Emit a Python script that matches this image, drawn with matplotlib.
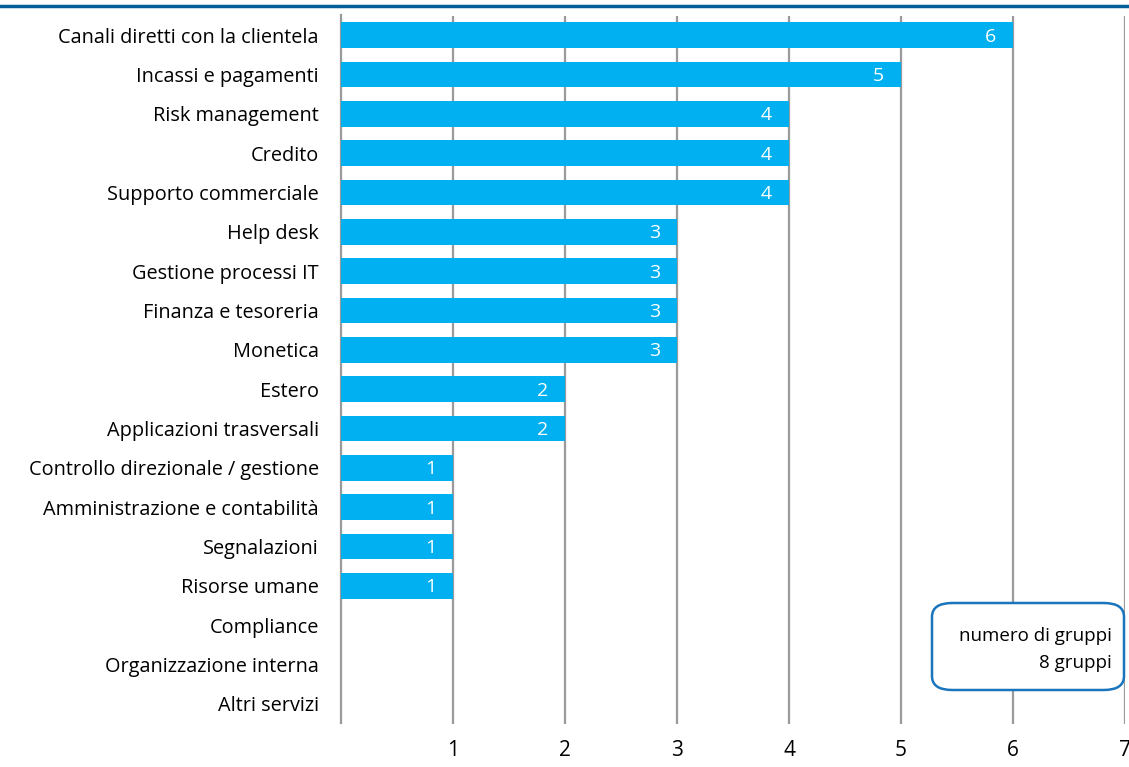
import matplotlib.pyplot as plt
from matplotlib.patches import FancyBboxPatch
import numpy as np

plt.rcParams['font.family'] = ['Open Sans', 'DejaVu Sans']

categorie = ["Canali diretti con la clientela", "Incassi e pagamenti", "Risk management",
             "Credito", "Supporto commerciale", "Help desk", "Gestione processi IT",
             "Finanza e tesoreria", "Monetica", "Estero", "Applicazioni trasversali",
             "Controllo direzionale / gestione", "Amministrazione e contabilità",
             "Segnalazioni", "Risorse umane", "Compliance", "Organizzazione interna",
             "Altri servizi"]
valori = [6, 5, 4, 4, 4, 3, 3, 3, 3, 2, 2, 1, 1, 1, 1, 0, 0, 0]
tick_x = [1, 2, 3, 4, 5, 6, 7]

fig = plt.figure(figsize=(11.29, 7.67), dpi=100)
ax = fig.add_axes([341/1129, 1-723.5/767, 784/1129, (723.5-15.5)/767])

y = np.arange(len(categorie))
ax.barh(y, valori, height=0.66, color='#00b0f0', zorder=3)
for yi, v in zip(y, valori):
    if v > 0:
        ax.text(v - 0.15, yi + 0.04, str(v), color='white', ha='right', va='center', fontsize=14, zorder=4)

ax.set_xlim(0, 7)
ax.set_ylim(len(categorie) - 0.5, -0.5)
ax.set_yticks(y)
ax.set_yticklabels(categorie, fontsize=14.3)
ax.set_xticks(tick_x)
ax.set_xticklabels([str(t) for t in tick_x], fontsize=15)
ax.tick_params(axis='y', length=0, pad=16)
ax.tick_params(axis='x', length=0, pad=12)
ax.xaxis.grid(True, color='#9a9a9a', linewidth=1.6, zorder=0)
for s in ['top', 'right', 'bottom']:
    ax.spines[s].set_visible(False)
ax.spines['left'].set_color('#9a9a9a')
ax.spines['left'].set_linewidth(1.6)

# riquadro con il numero di gruppi
box = FancyBboxPatch((932/1129, 1-690/767), (1124-932)/1129, (690-603)/767,
                     boxstyle="round,pad=0,rounding_size=0.018", transform=fig.transFigure,
                     facecolor='white', edgecolor='#1a75bc', linewidth=1.8, zorder=5)
fig.add_artist(box)
fig.text(1112/1129, 1-636/767, "numero di gruppi", ha='right', va='center', fontsize=13.5, zorder=6)
fig.text(1112/1129, 1-663/767, "8 gruppi", ha='right', va='center', fontsize=13.5, zorder=6)

# linea del titolo (tagliato)
fig.add_artist(plt.Line2D([0, 1], [1-6/767, 1-6/767], color='#005f96', linewidth=2.5,
                          transform=fig.transFigure))

fig.savefig('out.png', dpi=100)
